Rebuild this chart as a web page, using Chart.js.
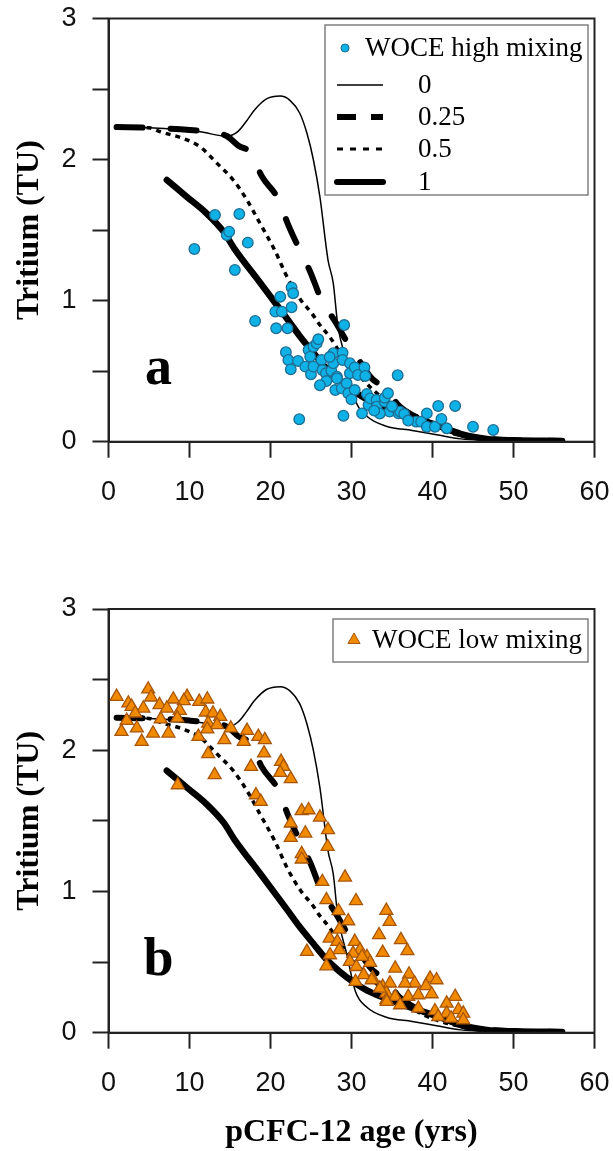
<!DOCTYPE html>
<html>
<head>
<meta charset="utf-8">
<title>Tritium vs pCFC-12 age</title>
<script src="https://cdn.jsdelivr.net/npm/chart.js@4.4.1/dist/chart.umd.min.js"></script>
<style>
    html, body { margin: 0; padding: 0; background: #fff; }
    #wrap { position: relative; width: 613px; height: 1151px; }
    #wrap canvas { position: absolute; left: 0; }
    #panelA { top: 0; }
    #panelB { top: 575px; }
</style>
</head>
<body>
<div id="wrap">
    <canvas id="panelA" width="613" height="575"></canvas>
    <canvas id="panelB" width="613" height="576"></canvas>
</div>
<script>
// axis ticks
const xTicks = [0, 10, 20, 30, 40, 50, 60];
const yTicks = [0, 1, 2, 3];

// model curves (mixing 0, 0.25, 0.5, 1)
const ageMix0 = [1, 5, 11.3, 14.6, 16.0, 17.0, 18.0, 19.5, 21.2, 22.4, 23.6, 24.5, 25.3, 26.1, 27.1, 27.75, 28.3, 29.4, 30.5, 31.9, 34.3, 37.5, 40.5, 43.5, 47, 52, 56];
const tritMix0 = [2.23, 2.225, 2.197, 2.165, 2.2, 2.27, 2.35, 2.43, 2.45, 2.42, 2.33, 2.186, 1.997, 1.735, 1.288, 1.123, 0.83, 0.56, 0.29, 0.18, 0.11, 0.08, 0.05, 0.02, 0.01, 0.006, 0.005];

const ageMix25 = [1, 5, 10, 13, 14.6, 16, 17.7, 18.9, 21.0, 22.1, 23.6, 24.9, 26.3, 28.0, 29.8, 31, 32.5, 34.75, 35.6, 37.2, 40.1, 43.8, 47, 50, 56];
const tritMix25 = [2.23, 2.225, 2.21, 2.19, 2.167, 2.1, 2.04, 1.884, 1.716, 1.55, 1.36, 1.205, 1.005, 0.85, 0.673, 0.57, 0.449, 0.354, 0.272, 0.2, 0.13, 0.047, 0.02, 0.01, 0.005];

const ageMix50 = [1, 5, 6.4, 9.2, 11.3, 13.4, 15.4, 17.1, 18.7, 20.5, 22.2, 23.8, 25.1, 26.1, 27.3, 28.5, 30, 33, 36, 40, 45, 50, 56];
const tritMix50 = [2.23, 2.225, 2.197, 2.15, 2.091, 1.973, 1.855, 1.713, 1.548, 1.36, 1.15, 1.0, 0.91, 0.827, 0.744, 0.64, 0.53, 0.35, 0.22, 0.1, 0.03, 0.01, 0.005];

const ageMix100 = [7.2, 9.65, 12.1, 14.2, 15.6, 18.7, 22.0, 23.6, 25.3, 26.9, 28.6, 30.2, 31.9, 33.9, 37.2, 40.9, 43.8, 46.7, 50, 56];
const tritMix100 = [1.855, 1.737, 1.619, 1.489, 1.364, 1.129, 0.875, 0.75, 0.63, 0.52, 0.43, 0.36, 0.3, 0.25, 0.18, 0.11, 0.05, 0.02, 0.01, 0.005];

// WOCE high mixing (panel a)
const hiAge = [10.6, 13.15, 14.6, 14.9, 15.6, 16.15, 17.2, 18.1, 20.6, 20.7, 21.2, 21.4, 22.1, 22.6, 22.8, 22.6,
    21.9, 22.2, 22.5, 23.4, 23.55, 24.3, 24.7, 24.9, 25.0, 25.3, 25.3, 25.7, 25.9, 26.3, 26.4, 26.85, 26.9,
    27.5, 27.75, 27.75, 28.0, 28.2, 28.2, 28.8, 28.9, 28.9, 29.0, 29.1, 29.4, 29.6, 29.8, 29.8, 30.4, 30.4,
    30.8, 31.3, 31.6, 31.7, 31.9, 32.1, 32.3, 33.1, 33.1, 34.1, 34.1, 34.5, 34.7, 35.7, 35.8, 36.0, 36.5,
    38.0, 38.6, 39.3, 39.3, 40.3, 40.7, 41.1, 41.75, 42.8, 45.0, 47.5, 27.3, 26.1, 30.0, 33.5, 37.0, 35.0, 32.8];
const hiTrit = [1.366, 1.607, 1.465, 1.489, 1.217, 1.614, 1.411, 0.856, 0.922, 0.804, 1.028, 0.922, 0.804, 1.094, 1.052, 0.953,
    0.634, 0.579, 0.513, 0.572, 0.159, 0.532, 0.65, 0.603, 0.478, 0.673, 0.532, 0.697, 0.726, 0.579, 0.508, 0.485, 0.43,
    0.503, 0.627, 0.556, 0.366, 0.461, 0.449, 0.378, 0.631, 0.579, 0.184, 0.827, 0.414, 0.343, 0.556, 0.485, 0.527, 0.366,
    0.473, 0.201, 0.527, 0.466, 0.338, 0.26, 0.307, 0.296, 0.248, 0.284, 0.312, 0.343, 0.213, 0.471, 0.201, 0.213, 0.196,
    0.142, 0.142, 0.201, 0.106, 0.106, 0.253, 0.161, 0.095, 0.253, 0.106, 0.083, 0.6, 0.4, 0.3, 0.2, 0.15, 0.25, 0.22];

// WOCE low mixing (panel b)
const loAge = [1.0, 4.9, 5.25, 2.45, 2.85, 4.3, 3.3, 6.3, 8.0, 9.7, 9.3, 11.2, 12.2, 7.2, 8.8, 2.25, 3.5, 1.6, 6.45, 8.5,
    5.5, 7.4, 4.1, 12.0, 12.9, 13.8, 12.3, 13.4, 12.2, 15.1, 11.1, 14.3, 17.1, 18.5, 19.3, 16.7, 12.3, 19.2,
    17.6, 21.3, 21.6, 21.2, 22.5, 13.1, 8.55, 18.2, 18.8, 23.85, 24.7, 26.1, 22.5, 27.1, 24.3, 22.5, 27.05,
    23.85, 23.85, 29.2, 26.4, 26.9, 30.55, 28.4, 29.6, 28.5, 27.3, 28.25, 24.5, 30.4, 31.05, 28.5, 27.35,
    30.2, 31.9, 29.8, 32.3, 26.9, 30.6, 31.5, 32.6, 30.5, 33.85, 34.75, 34.3, 35.4, 34.3, 33.4, 34.3, 34.7,
    33.85, 35.4, 36.1, 36.9, 37.1, 39.7, 40.5, 37.8, 36.6, 39.2, 33.5, 39.9, 42.8, 37.0, 38.25, 41.75, 43.2,
    43.8, 41.75, 40.3, 38.25, 34.35, 36.0, 43.8, 42.3, 40.7, 31.3, 32.5];
const loTrit = [2.38, 2.432, 2.375, 2.333, 2.309, 2.297, 2.262, 2.321, 2.361, 2.38, 2.35, 2.344, 2.361, 2.297, 2.28, 2.21, 2.156, 2.132, 2.22, 2.227,
    2.12, 2.12, 2.061, 2.269, 2.262, 2.238, 2.191, 2.179, 2.149, 2.156, 2.096, 2.073, 2.139, 2.096, 2.073, 2.061, 1.974, 1.979,
    1.884, 1.919, 1.884, 1.841, 1.797, 1.825, 1.754, 1.683, 1.636, 1.57, 1.577, 1.525, 1.483, 1.436, 1.412, 1.381, 1.317,
    1.266, 1.228, 1.1, 1.069, 0.94, 0.933, 0.862, 0.791, 0.732, 0.668, 0.645, 0.574, 0.645, 0.586, 0.586, 0.55,
    0.562, 0.538, 0.503, 0.496, 0.472, 0.467, 0.409, 0.385, 0.361, 0.326, 0.35, 0.279, 0.255, 0.232, 0.692, 0.864, 0.786,
    0.567, 0.456, 0.657, 0.579, 0.414, 0.385, 0.373, 0.35, 0.35, 0.331, 0.314, 0.274, 0.255, 0.255, 0.267, 0.208, 0.161,
    0.137, 0.137, 0.154, 0.173, 0.22, 0.196, 0.09, 0.102, 0.113, 0.538, 0.373];

const TritiumPlot = {
    colors: {
        axis: '#222222',
        circleFill: '#0FB2E6',
        circleEdge: '#1C6E94',
        triFill: '#F28A00',
        triEdge: '#A8560A',
        legendEdge: '#808080'
    },
    sans: "'Liberation Sans', Arial, sans-serif",
    serif: "'Liberation Serif', 'Times New Roman', serif",

    toPoints(xs, ys) {
        return xs.map((x, i) => ({ x: x, y: ys[i] }));
    },

    modelDatasets() {
        const base = {
            showLine: true,
            pointRadius: 0,
            borderColor: '#000',
            fill: false,
            cubicInterpolationMode: 'monotone'
        };
        return [
            { ...base, label: '0', data: this.toPoints(ageMix0, tritMix0), borderWidth: 1.5 },
            { ...base, label: '0.25', data: this.toPoints(ageMix25, tritMix25), borderWidth: 6, borderDash: [26, 28], borderCapStyle: 'round' },
            { ...base, label: '0.5', data: this.toPoints(ageMix50, tritMix50), borderWidth: 3.5, borderDash: [5, 5] },
            { ...base, label: '1', data: this.toPoints(ageMix100, tritMix100), borderWidth: 6.5, borderCapStyle: 'round' }
        ];
    },

    // no extra room for overflowing tick labels, the plot box is fixed by the layout padding
    noOverflow(scale) {
        scale.paddingTop = 0;
        scale.paddingBottom = 0;
        scale.paddingLeft = 0;
        scale.paddingRight = 0;
    },

    framePlugin: {
        id: 'frame',
        afterDraw(chart) {
            const { ctx, chartArea } = chart;
            ctx.save();
            ctx.strokeStyle = TritiumPlot.colors.axis;
            ctx.lineWidth = 2;
            ctx.strokeRect(chartArea.left, chartArea.top, chartArea.right - chartArea.left, chartArea.bottom - chartArea.top);
            ctx.restore();
        }
    },

    letterPlugin(letter) {
        return {
            id: 'panelLetter',
            afterDraw(chart) {
                const { ctx, scales } = chart;
                ctx.save();
                ctx.font = `bold 54px ${TritiumPlot.serif}`;
                ctx.fillStyle = '#000';
                ctx.textAlign = 'center';
                ctx.textBaseline = 'alphabetic';
                ctx.fillText(letter, scales.x.getPixelForValue(6.17), scales.y.getPixelForValue(0.41));
                ctx.restore();
            }
        };
    },

    legendPlugin(box, entries) {
        return {
            id: 'boxLegend',
            afterDraw(chart) {
                const { ctx, chartArea } = chart;
                const left = chartArea.right - box.right - box.width;
                const top = chartArea.top + box.top;
                ctx.save();
                ctx.fillStyle = '#fff';
                ctx.fillRect(left, top, box.width, box.height);
                ctx.strokeStyle = TritiumPlot.colors.legendEdge;
                ctx.lineWidth = 1.5;
                ctx.strokeRect(left, top, box.width, box.height);

                entries.forEach(e => {
                    const y = top + e.row;
                    if (e.kind === 'point') {
                        ctx.fillStyle = e.fill;
                        ctx.strokeStyle = e.stroke;
                        ctx.lineWidth = 1;
                        Chart.helpers.drawPoint(ctx, { pointStyle: e.style, radius: e.radius, rotation: 0, borderWidth: 1 }, left + e.mark, y);
                    } else {
                        ctx.beginPath();
                        ctx.strokeStyle = '#000';
                        ctx.lineWidth = e.width;
                        ctx.lineCap = e.cap || 'butt';
                        ctx.setLineDash(e.dash || []);
                        ctx.moveTo(left + 12, y);
                        ctx.lineTo(left + 58, y);
                        ctx.stroke();
                        ctx.setLineDash([]);
                    }
                    ctx.fillStyle = '#000';
                    ctx.font = `27px ${TritiumPlot.serif}`;
                    ctx.textAlign = 'left';
                    ctx.textBaseline = 'middle';
                    ctx.fillText(e.text, left + e.textX, y + 1);
                });
                ctx.restore();
            }
        };
    },

    axisOptions(xHeight, showXTitle) {
        const tickFont = { family: this.sans, size: 27 };
        const grid = {
            drawOnChartArea: false,
            drawTicks: true,
            tickLength: 16,
            tickWidth: 2,
            tickColor: this.colors.axis
        };
        const border = { display: true, color: this.colors.axis, width: 2 };
        return {
            x: {
                type: 'linear',
                min: xTicks[0],
                max: xTicks[xTicks.length - 1],
                afterBuildTicks: scale => { scale.ticks = xTicks.map(v => ({ value: v })); },
                afterFit: scale => {
                    scale.height = xHeight;
                    this.noOverflow(scale);
                },
                ticks: { font: tickFont, color: '#111', padding: 19, maxRotation: 0 },
                grid: grid,
                border: border,
                title: {
                    display: showXTitle,
                    text: 'pCFC-12 age (yrs)',
                    color: '#000',
                    font: { family: this.serif, size: 32, weight: 'bold', lineHeight: 1.12 },
                    padding: { top: 0, bottom: 0 }
                }
            },
            y: {
                type: 'linear',
                min: yTicks[0],
                max: yTicks[yTicks.length - 1],
                afterBuildTicks: scale => {
                    const t = [];
                    for (let v = yTicks[0]; v <= yTicks[yTicks.length - 1] + 1e-9; v += 0.5) t.push({ value: v });
                    scale.ticks = t;
                },
                afterFit: scale => {
                    scale.width = 108.5;
                    this.noOverflow(scale);
                },
                ticks: {
                    font: tickFont,
                    color: '#111',
                    padding: 16,
                    callback: v => (yTicks.includes(v) ? String(v) : '')
                },
                grid: grid,
                border: border,
                title: {
                    display: true,
                    text: 'Tritium (TU)',
                    color: '#000',
                    font: { family: this.serif, size: 32, weight: 'bold' },
                    padding: { top: 11, bottom: 0 }
                }
            }
        };
    },

    createPanel(canvasId, cfg) {
        const canvas = document.getElementById(canvasId);
        if (!canvas) return null;

        const ctx = canvas.getContext('2d');
        return new Chart(ctx, {
            type: 'scatter',
            data: { datasets: [cfg.points, ...this.modelDatasets()] },
            options: {
                responsive: false,
                animation: false,
                devicePixelRatio: 1,
                layout: { padding: { top: cfg.padTop, right: 18.5, left: 0, bottom: 0 } },
                plugins: { legend: { display: false }, tooltip: { enabled: false } },
                scales: this.axisOptions(cfg.xHeight, cfg.showXTitle)
            },
            plugins: [this.framePlugin, this.letterPlugin(cfg.letter), this.legendPlugin(cfg.legendBox, cfg.legendEntries)]
        });
    }
};

const lineEntries = [
    { text: '0', kind: 'line', width: 1.5, row: 60, textX: 93 },
    { text: '0.25', kind: 'line', width: 6, dash: [19, 15], row: 92, textX: 93 },
    { text: '0.5', kind: 'line', width: 3, dash: [6, 7], row: 124, textX: 93 },
    { text: '1', kind: 'line', width: 6, cap: 'round', row: 157, textX: 93 }
];

TritiumPlot.createPanel('panelA', {
    padTop: 18.5,
    xHeight: 133.3,
    showXTitle: false,
    letter: 'a',
    points: {
        label: 'WOCE high mixing',
        data: TritiumPlot.toPoints(hiAge, hiTrit),
        pointStyle: 'circle',
        pointRadius: 5.3,
        pointBackgroundColor: TritiumPlot.colors.circleFill,
        pointBorderColor: TritiumPlot.colors.circleEdge,
        pointBorderWidth: 1.3,
        showLine: false
    },
    legendBox: { right: 6.5, top: 6.5, width: 263, height: 170 },
    legendEntries: [
        { text: 'WOCE high mixing', kind: 'point', style: 'circle', radius: 4, fill: TritiumPlot.colors.circleFill, stroke: TritiumPlot.colors.circleEdge, mark: 20, row: 23, textX: 40 },
        ...lineEntries
    ]
});

TritiumPlot.createPanel('panelB', {
    padTop: 34,
    xHeight: 118.3,
    showXTitle: true,
    letter: 'b',
    points: {
        label: 'WOCE low mixing',
        data: TritiumPlot.toPoints(loAge, loTrit),
        pointStyle: 'triangle',
        pointRadius: 7.5,
        pointBackgroundColor: TritiumPlot.colors.triFill,
        pointBorderColor: TritiumPlot.colors.triEdge,
        pointBorderWidth: 1.3,
        showLine: false
    },
    legendBox: { right: 6.5, top: 10, width: 255, height: 43 },
    legendEntries: [
        { text: 'WOCE low mixing', kind: 'point', style: 'triangle', radius: 7, fill: TritiumPlot.colors.triFill, stroke: TritiumPlot.colors.triEdge, mark: 21, row: 21, textX: 39 }
    ]
});
</script>
</body>
</html>
